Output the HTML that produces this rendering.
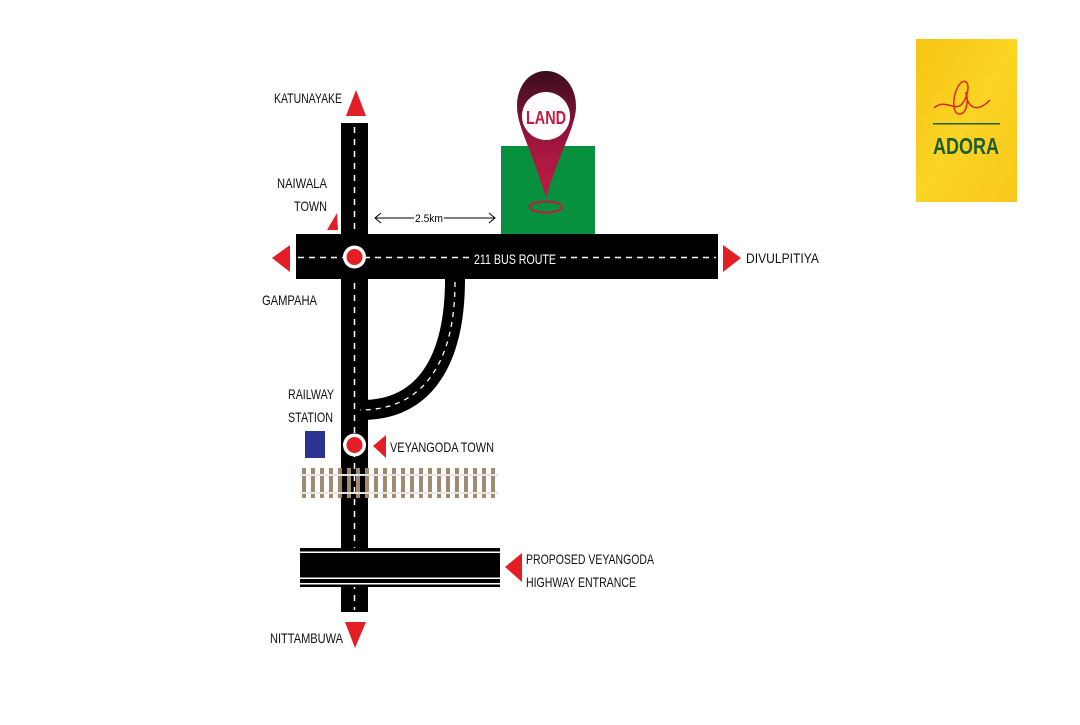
<!DOCTYPE html>
<html><head><style>
body{margin:0;background:#fff;}
svg text{font-family:"Liberation Sans",sans-serif;}
</style></head><body>
<svg width="1080" height="720" viewBox="0 0 1080 720" xmlns="http://www.w3.org/2000/svg">
<defs>
<linearGradient id="pg" x1="0" y1="0" x2="0" y2="1">
<stop offset="0" stop-color="#3a0d1e"/><stop offset="0.6" stop-color="#a3173f"/><stop offset="1" stop-color="#c21a45"/>
</linearGradient>
<linearGradient id="yg" x1="0" y1="0" x2="1" y2="1">
<stop offset="0" stop-color="#f6c414"/><stop offset="0.5" stop-color="#fbd424"/><stop offset="1" stop-color="#f8c81a"/>
</linearGradient>
</defs>
<rect x="501" y="146" width="94" height="88" fill="#07913f"/>
<rect x="341" y="123" width="27" height="489" fill="#000"/>
<line x1="354.5" y1="127" x2="354.5" y2="610" stroke="#fff" stroke-width="1.5" stroke-dasharray="6,6"/>
<path d="M455 279 C455 360 425 410 362 410" fill="none" stroke="#000" stroke-width="20"/>
<path d="M455 282 C455 360 425 410 360 410" fill="none" stroke="#fff" stroke-width="1.3" stroke-dasharray="5,5"/>
<rect x="296" y="234" width="422" height="45" fill="#000"/>
<line x1="298" y1="257.5" x2="470" y2="257.5" stroke="#fff" stroke-width="1.5" stroke-dasharray="6,5"/>
<line x1="560" y1="257.5" x2="716" y2="257.5" stroke="#fff" stroke-width="1.5" stroke-dasharray="6,5"/>
<rect x="472" y="249" width="86" height="17" fill="#000"/>
<text x="515" y="264" font-size="14" fill="#fff" text-anchor="middle" textLength="82" lengthAdjust="spacingAndGlyphs">211 BUS ROUTE</text>
<circle cx="354.5" cy="257" r="11.5" fill="#fff"/><circle cx="354.5" cy="257" r="8" fill="#e31e24"/>
<circle cx="354.5" cy="445" r="11.5" fill="#fff"/><circle cx="354.5" cy="445" r="8" fill="#e31e24"/>
<g fill="#a08a70">
<rect x="302" y="468" width="4" height="30"/><rect x="311" y="468" width="4" height="30"/><rect x="320" y="468" width="4" height="30"/><rect x="329" y="468" width="4" height="30"/><rect x="338" y="468" width="4" height="30"/><rect x="347" y="468" width="4" height="30"/><rect x="356" y="468" width="4" height="30"/><rect x="365" y="468" width="4" height="30"/><rect x="374" y="468" width="4" height="30"/><rect x="383" y="468" width="4" height="30"/><rect x="392" y="468" width="4" height="30"/><rect x="401" y="468" width="4" height="30"/><rect x="410" y="468" width="4" height="30"/><rect x="419" y="468" width="4" height="30"/><rect x="428" y="468" width="4" height="30"/><rect x="437" y="468" width="4" height="30"/><rect x="446" y="468" width="4" height="30"/><rect x="455" y="468" width="4" height="30"/><rect x="464" y="468" width="4" height="30"/><rect x="473" y="468" width="4" height="30"/><rect x="482" y="468" width="4" height="30"/><rect x="491" y="468" width="4" height="30"/>
</g>
<rect x="300" y="474" width="198" height="2" fill="#e4e4e4"/>
<rect x="300" y="492" width="198" height="2" fill="#e4e4e4"/>
<rect x="300" y="548" width="200" height="39" fill="#000"/>
<rect x="300" y="551.5" width="200" height="1.5" fill="#fff"/>
<rect x="300" y="577.5" width="200" height="1.5" fill="#fff"/>
<rect x="300" y="583" width="200" height="1.5" fill="#fff"/>
<rect x="305" y="431" width="20" height="27" fill="#2b3390"/>
<g fill="#e31e24">
<polygon points="356,90 346,116 366,116"/>
<polygon points="272,258 290,245 290,272"/>
<polygon points="741,258 723,245 723,272"/>
<polygon points="355,648 345,622 366,622"/>
<polygon points="327,230 337,213 338,230"/>
<polygon points="373,446 386,435 386,458"/>
<polygon points="505,567 522,553 522,582"/>
</g>
<line x1="376" y1="218" x2="414" y2="218" stroke="#000" stroke-width="1"/>
<line x1="444" y1="218" x2="494" y2="218" stroke="#000" stroke-width="1"/>
<polyline points="381,213 375,218 381,223" fill="none" stroke="#000" stroke-width="1"/>
<polyline points="489,213 495,218 489,223" fill="none" stroke="#000" stroke-width="1"/>
<text x="429" y="222" font-size="11" text-anchor="middle" fill="#000" textLength="28" lengthAdjust="spacingAndGlyphs">2.5km</text>
<path d="M546 71 C529 71 517 86 517 106 C517 127 532 150 546 198 C560 150 576 127 576 106 C576 86 563 71 546 71 Z" fill="url(#pg)"/>
<circle cx="546" cy="116" r="24" fill="#fff"/>
<text x="546" y="124" font-size="18" font-weight="bold" fill="#c21a45" text-anchor="middle" textLength="40" lengthAdjust="spacingAndGlyphs">LAND</text>
<ellipse cx="546" cy="207" rx="16" ry="5.5" fill="none" stroke="#c21a45" stroke-width="2"/>
<g font-size="14" fill="#111">
<text x="274" y="103" textLength="68" lengthAdjust="spacingAndGlyphs">KATUNAYAKE</text>
<text x="277" y="188" textLength="50" lengthAdjust="spacingAndGlyphs">NAIWALA</text>
<text x="294" y="211" textLength="33" lengthAdjust="spacingAndGlyphs">TOWN</text>
<text x="262" y="305" textLength="55" lengthAdjust="spacingAndGlyphs">GAMPAHA</text>
<text x="288" y="399" textLength="46" lengthAdjust="spacingAndGlyphs">RAILWAY</text>
<text x="288" y="422" textLength="45" lengthAdjust="spacingAndGlyphs">STATION</text>
<text x="390" y="452" textLength="104" lengthAdjust="spacingAndGlyphs">VEYANGODA TOWN</text>
<text x="746" y="263" textLength="73" lengthAdjust="spacingAndGlyphs">DIVULPITIYA</text>
<text x="526" y="564" textLength="128" lengthAdjust="spacingAndGlyphs">PROPOSED VEYANGODA</text>
<text x="526" y="587" textLength="110" lengthAdjust="spacingAndGlyphs">HIGHWAY ENTRANCE</text>
<text x="270" y="643" textLength="73" lengthAdjust="spacingAndGlyphs">NITTAMBUWA</text>
</g>
<rect x="916" y="39" width="101" height="163" fill="url(#yg)"/>
<path d="M934 108 C945 98 955 112 962 104 C970 94 970 78 962 82 C953 88 950 115 960 114 C968 113 968 98 966 92 C966 105 975 115 990 100" fill="none" stroke="#d62a1d" stroke-width="1.5"/>
<rect x="933" y="123" width="67" height="1.5" fill="#1f5c2c"/>
<text x="966" y="154" font-size="23" font-weight="bold" fill="#1f5c2c" text-anchor="middle" textLength="66" lengthAdjust="spacingAndGlyphs">ADORA</text>
</svg>
</body></html>
